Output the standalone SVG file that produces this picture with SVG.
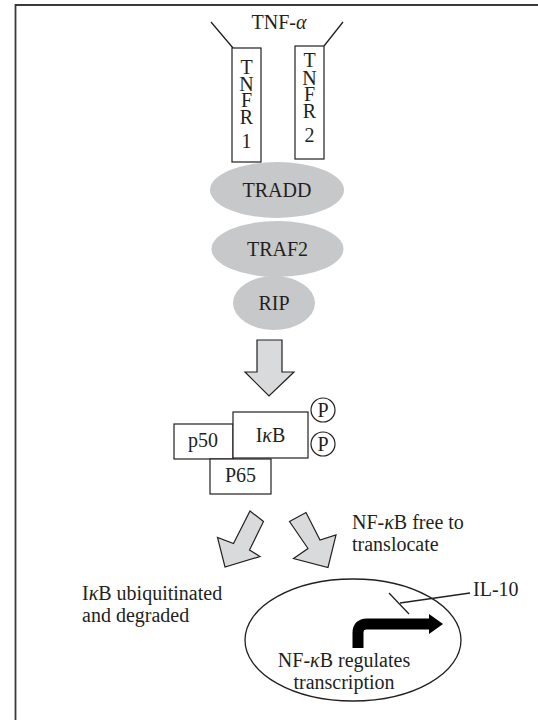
<svg xmlns="http://www.w3.org/2000/svg" width="538" height="720" viewBox="0 0 538 720">
<style>
text{font-family:"Liberation Serif","Times New Roman",serif;font-size:20px;fill:#231f20}
.c{text-anchor:middle}
.v{writing-mode:vertical-rl;text-orientation:upright;font-size:20px}
.box{fill:#fff;stroke:#231f20;stroke-width:1.2}
.oval{fill:#c7c8ca}
.arr{fill:#d9dadb;stroke:#231f20;stroke-width:1.2;stroke-linejoin:miter}
.ln{fill:none;stroke:#231f20;stroke-width:1.3}
</style>
<rect width="538" height="720" fill="#fff"/>
<g id="frame">
<path d="M15.5 720 V5 H538" fill="none" stroke="#3a3a3a" stroke-width="1.8"/>
</g>
<g id="connectors">
<line class="ln" x1="211" y1="22" x2="233" y2="48"/>
<line class="ln" x1="343" y1="22" x2="324" y2="46"/>
<polygon class="arr" points="257,340 282,340 282,372 294,372 269,396 245,372 257,372"/>
<polygon class="arr" points="250,511 263.5,521.5 249.5,550 260,556.5 225,567 217.5,537.5 233.5,543.5"/>
<polygon class="arr" points="289.5,521.5 306,512.5 320,540 336,535 328,567.5 293.5,558.5 308,548.5"/>
</g>
<g id="tnf">
<text class="c" x="279" y="29">TNF-<tspan font-style="italic">α</tspan></text>
</g>
<g id="tnfr1">
<rect class="box" x="232" y="48" width="29" height="114"/>
<text class="v" x="246.5" y="56 73 89 106 130">TNFR1</text>
</g>
<g id="tnfr2">
<rect class="box" x="295" y="46" width="29" height="113"/>
<text class="v" x="309.5" y="49 67 83 100 124">TNFR2</text>
</g>
<g id="tradd">
<ellipse class="oval" cx="277" cy="190" rx="67" ry="28"/>
<text class="c" x="277" y="197">TRADD</text>
</g>
<g id="traf2">
<ellipse class="oval" cx="277.5" cy="249" rx="66" ry="28"/>
<text class="c" x="277.5" y="256">TRAF2</text>
</g>
<g id="rip">
<ellipse class="oval" cx="274" cy="303" rx="41" ry="27"/>
<text class="c" x="274" y="310">RIP</text>
</g>
<g id="p50">
<rect class="box" x="174" y="424" width="59" height="35"/>
<text class="c" x="203" y="447">p50</text>
</g>
<g id="ikb">
<rect class="box" x="233" y="412" width="75" height="46"/>
<text class="c" x="270.5" y="442">I<tspan font-style="italic">κ</tspan>B</text>
</g>
<g id="p65">
<rect class="box" x="210" y="459" width="61" height="35"/>
<text class="c" x="240.5" y="482">P65</text>
</g>
<g id="phos1">
<circle class="box" cx="323" cy="410" r="12"/>
<text class="c" x="323" y="417">P</text>
</g>
<g id="phos2">
<circle class="box" cx="323" cy="444" r="12"/>
<text class="c" x="323" y="451">P</text>
</g>
<g id="label-translocate">
<text x="352" y="529">NF-<tspan font-style="italic">κ</tspan>B free to</text>
<text x="352" y="551">translocate</text>
</g>
<g id="label-degraded">
<text x="82" y="600">I<tspan font-style="italic">κ</tspan>B ubiquitinated</text>
<text x="82" y="622">and degraded</text>
</g>
<g id="nucleus">
<ellipse cx="353" cy="640" rx="108" ry="61" fill="none" stroke="#231f20" stroke-width="1.3"/>
<path d="M358 648 V633 Q358 624 367 624 H431" fill="none" stroke="#000" stroke-width="11"/>
<polygon points="429,614 443,624 429,634" fill="#000"/>
<line class="ln" x1="389" y1="593" x2="409" y2="614"/>
<line class="ln" x1="400" y1="603" x2="470" y2="593"/>
<text x="473" y="596">IL-10</text>
<text class="c" x="344" y="667">NF-<tspan font-style="italic">κ</tspan>B regulates</text>
<text class="c" x="344" y="689">transcription</text>
</g>
</svg>
